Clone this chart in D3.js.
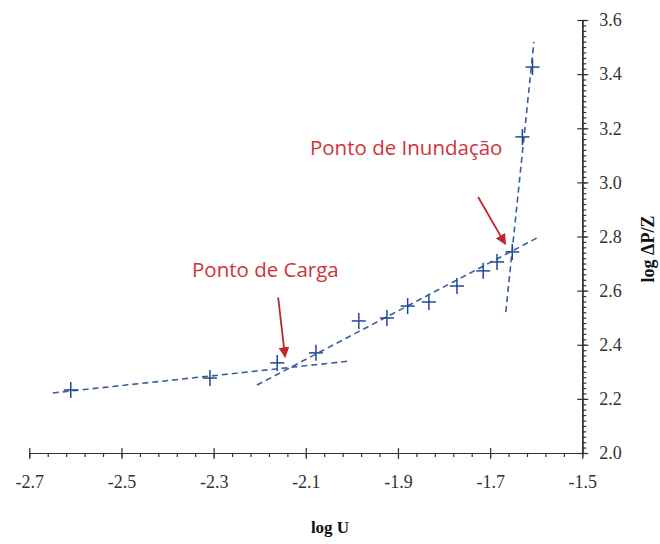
<!DOCTYPE html>
<html>
<head>
<meta charset="utf-8">
<script src="https://cdn.jsdelivr.net/npm/d3@7"></script>
<style>
  html, body { margin: 0; padding: 0; background: #fff; }
  svg { display: block; }
</style>
</head>
<body>
<svg id="chart" width="660" height="544"></svg>
<script>
// Measured points: log U vs log ΔP/Z
const logU  = [-2.610, -2.308, -2.162, -2.078, -1.985, -1.924, -1.879, -1.833, -1.772, -1.715, -1.685, -1.652, -1.630, -1.608];
const logDP = [ 2.233,  2.277,  2.333,  2.370,  2.488,  2.499,  2.543,  2.558,  2.617,  2.673,  2.706,  2.743,  3.168,  3.426];

// Dashed trend segments: [x1, y1, x2, y2] in data units
const trendLines = [
  [-2.649, 2.222, -2.004, 2.340],
  [-2.206, 2.251, -1.598, 2.795],
  [-1.666, 2.521, -1.605, 3.519]
];

// Annotations: text, text anchor point, arrow start, arrow tip
const noteText  = ["Ponto de Carga", "Ponto de Inundação"];
const noteAt    = [[-2.347, 2.650], [-2.091, 3.101]];
const noteFrom  = [[-2.160, 2.575], [-1.726, 2.946]];
const noteTo    = [[-2.145, 2.355], [-1.667, 2.772]];

const xMajor = [-2.7, -2.5, -2.3, -2.1, -1.9, -1.7, -1.5];
const yMajor = [2.0, 2.2, 2.4, 2.6, 2.8, 3.0, 3.2, 3.4, 3.6];
const xMinor = d3.range(0, 31).map(i => -2.7 + i * 0.04);
const yMinor = d3.range(0, 81).map(i => 2.0 + i * 0.02);

const svg = d3.select("#chart");
const x = d3.scaleLinear().domain([-2.7, -1.5]).range([29.3, 582.3]);
const y = d3.scaleLinear().domain([2.0, 3.6]).range([453, 20]);

const axisColor = "#333";
// one decimal, plain hyphen for negatives
const fmt = v => d3.format(".1f")(v).replace("\u2212", "-");

// X axis
const gx = svg.append("g").attr("transform", `translate(0,${y(2.0)})`);
gx.append("g").call(d3.axisBottom(x).tickValues(xMinor).tickSize(4).tickSizeOuter(0).tickFormat(""));
gx.append("g").call(d3.axisBottom(x).tickValues(xMajor).tickSize(-5).tickSizeOuter(0).tickFormat(""));
gx.append("g").call(d3.axisBottom(x).tickValues(xMajor).tickSize(6).tickSizeOuter(0).tickPadding(16).tickFormat(fmt));

// Y axis (right side)
const gy = svg.append("g").attr("transform", `translate(${x(-1.5)},0)`);
gy.append("g").call(d3.axisRight(y).tickValues(yMinor).tickSize(4).tickSizeOuter(0).tickFormat(""));
gy.append("g").call(d3.axisRight(y).tickValues(yMajor).tickSize(-5).tickSizeOuter(0).tickFormat(""));
gy.append("g").call(d3.axisRight(y).tickValues(yMajor).tickSize(6).tickSizeOuter(0).tickPadding(11).tickFormat(fmt));

svg.selectAll(".domain, .tick line").attr("stroke", axisColor).attr("stroke-width", 1.2);
svg.selectAll(".tick text")
  .attr("fill", "#333")
  .style("font-family", "'Liberation Serif', 'Times New Roman', serif")
  .style("font-size", "18px");

// Axis titles
svg.append("text")
  .attr("x", 330).attr("y", 533)
  .attr("text-anchor", "middle")
  .style("font-family", "'Liberation Serif', serif")
  .style("font-weight", "bold")
  .style("font-size", "17px")
  .attr("fill", "#111")
  .text("log U");

svg.append("text")
  .attr("transform", "translate(654,249) rotate(-90)")
  .attr("text-anchor", "middle")
  .style("font-family", "'Liberation Serif', serif")
  .style("font-weight", "bold")
  .style("font-size", "18px")
  .attr("fill", "#111")
  .text("log ΔP/Z");

// Dashed trend lines
svg.append("g").selectAll("line").data(trendLines).join("line")
  .attr("x1", d => x(d[0])).attr("y1", d => y(d[1]))
  .attr("x2", d => x(d[2])).attr("y2", d => y(d[3]))
  .attr("stroke", "#3a5d9c")
  .attr("stroke-width", 1.6)
  .attr("stroke-dasharray", "6,4");

// Data crosses
const pts = logU.map((u, i) => [u, logDP[i]]);
const cross = svg.append("g").selectAll("g").data(pts).join("g")
  .attr("transform", d => `translate(${x(d[0])},${y(d[1])})`);
cross.append("line").attr("x1", -7).attr("x2", 7).attr("y1", 0).attr("y2", 0);
cross.append("line").attr("x1", 0).attr("x2", 0).attr("y1", -8).attr("y2", 8);
cross.selectAll("line").attr("stroke", "#1f4a8f").attr("stroke-width", 1.5);

// Arrow marker
svg.append("defs").append("marker")
  .attr("id", "arrowhead")
  .attr("viewBox", "0 0 10 10")
  .attr("refX", 9).attr("refY", 5)
  .attr("markerWidth", 6).attr("markerHeight", 6)
  .attr("markerUnits", "strokeWidth")
  .attr("orient", "auto")
  .append("path").attr("d", "M0,0 L10,5 L0,10 z").attr("fill", "#c0262c");

const notes = noteText.map((t, i) => ({ t, at: noteAt[i], from: noteFrom[i], to: noteTo[i] }));
svg.append("g").selectAll("line").data(notes).join("line")
  .attr("x1", d => x(d.from[0])).attr("y1", d => y(d.from[1]))
  .attr("x2", d => x(d.to[0])).attr("y2", d => y(d.to[1]))
  .attr("stroke", "#c0262c")
  .attr("stroke-width", 1.8)
  .attr("marker-end", "url(#arrowhead)");

svg.append("g").selectAll("text").data(notes).join("text")
  .attr("x", d => x(d.at[0])).attr("y", d => y(d.at[1]))
  .attr("fill", "#d0343a")
  .style("font-family", "'Open Sans', 'Noto Sans', sans-serif")
  .style("font-size", "20.5px")
  .text(d => d.t);
</script>
</body>
</html>
